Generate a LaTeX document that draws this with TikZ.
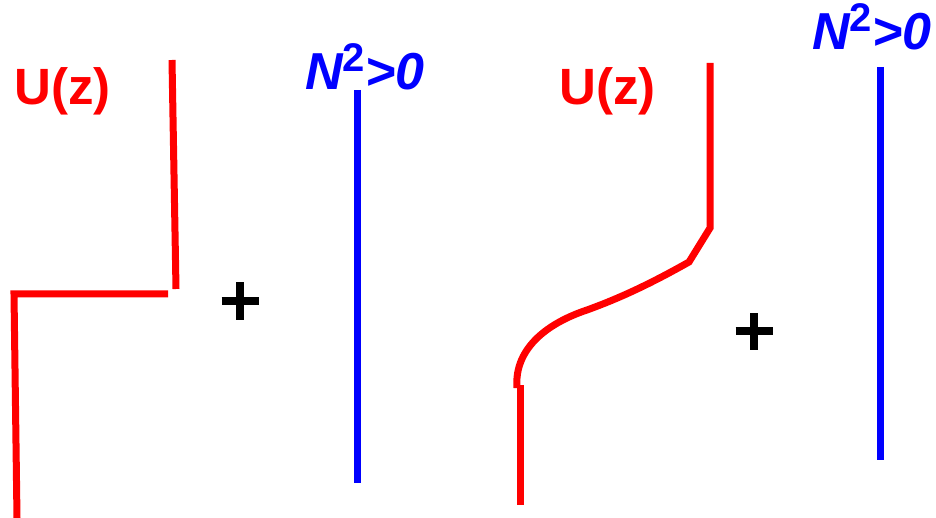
\documentclass[tikz,border=0pt]{standalone}
\usepackage{fontspec}
\setmainfont{Liberation Sans}
\newcommand{\nsq}{N\raisebox{18pt}{\fontsize{40}{40}\selectfont\upshape 2}>0}
\begin{document}
\begin{tikzpicture}[x=1pt,y=-1pt,
  redline/.style={draw=red,line width=7pt},
  blueline/.style={draw=blue,line width=7pt},
  plusline/.style={draw=black,line width=8pt},
  ulabel/.style={text=red,font=\fontsize{51}{51}\selectfont\bfseries,inner sep=0pt,anchor=base west},
  nlabel/.style={text=blue,font=\fontsize{52}{52}\selectfont\bfseries\itshape,inner sep=0pt,anchor=base west}]
\useasboundingbox (0,0) rectangle (936,518);
% labels
\node[ulabel] (u1) at (14,105) {U(z)};
\node[ulabel] (u2) at (559,105) {U(z)};
\node[nlabel] (n1) at (305,90) {\nsq};
\node[nlabel] (n2) at (812,50) {\nsq};
% left profile
\coordinate (a1) at (172,60);
\coordinate (a2) at (176,289);
\coordinate (b1) at (168,294);
\coordinate (b2) at (14,294);
\coordinate (b3) at (17,518);
\draw[redline] (a1) -- (a2);
\draw[redline] (b1) -- (b2) -- (b3);
% blue lines
\coordinate (c1) at (357,90);
\coordinate (c2) at (357,483);
\draw[blueline] (c1) -- (c2);
\coordinate (d1) at (880,67);
\coordinate (d2) at (880,460);
\draw[blueline] (d1) -- (d2);
% right profile
\coordinate (e1) at (710,63);
\coordinate (e2) at (710,228);
\coordinate (e3) at (689,262);
\coordinate (e4) at (587,310);
\coordinate (e5) at (517,388);
\coordinate (f1) at (520,385);
\coordinate (f2) at (520,505);
\draw[redline] (e1) -- (e2) -- (e3) .. controls (650,284) and (620,298) .. (e4)
  .. controls (545,324) and (514,350) .. (e5);
\draw[redline] (f1) -- (f2);
% plus signs
\coordinate (p1) at (240,301);
\draw[plusline] ([xshift=-18.5]p1) -- ([xshift=18.5]p1);
\draw[plusline] ([yshift=-18.5]p1) -- ([yshift=18.5]p1);
\coordinate (p2) at (754,331);
\draw[plusline] ([xshift=-18.5]p2) -- ([xshift=18.5]p2);
\draw[plusline] ([yshift=-18.5]p2) -- ([yshift=18.5]p2);
\end{tikzpicture}
\end{document}
